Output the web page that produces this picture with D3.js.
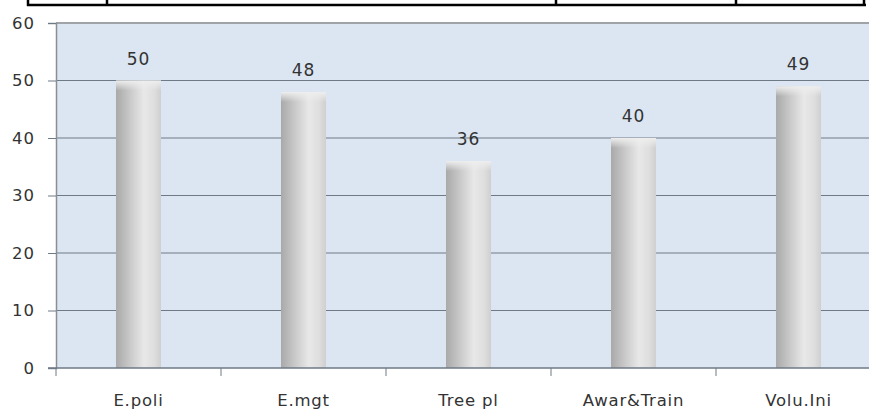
<!DOCTYPE html>
<html>
<head>
<meta charset="utf-8">
<script src="https://cdn.jsdelivr.net/npm/d3@7"></script>
<style>
  body { margin: 0; background: #fff; }
  text { font-family: "DejaVu Sans", Verdana, sans-serif; fill: #333; }
</style>
</head>
<body>
<div id="chart"></div>
<script>
var categories = ["E.poli", "E.mgt", "Tree pl", "Awar&Train", "Volu.Ini"];
var values = [50, 48, 36, 40, 49];
var yTicks = [0, 10, 20, 30, 40, 50, 60];

var W = 869, H = 412;
var margin = {top: 23, left: 56, bottom: 44};
var plotH = H - margin.top - margin.bottom;
var bandW = 165;

var svg = d3.select("#chart").append("svg")
    .attr("width", W)
    .attr("height", H);

// table border fragment at the top
var tbl = svg.append("g").attr("stroke", "#000").attr("stroke-width", 2.5);
tbl.append("line").attr("x1", 27).attr("x2", 866).attr("y1", 5).attr("y2", 5);
[28, 107, 556, 736, 864].forEach(function(x) {
  tbl.append("line").attr("x1", x).attr("x2", x).attr("y1", -2).attr("y2", 6);
});

var x = d3.scaleBand()
    .domain(categories)
    .range([margin.left, margin.left + bandW * categories.length]);

var y = d3.scaleLinear()
    .domain([0, 60])
    .range([margin.top + plotH, margin.top]);

var defs = svg.append("defs");
var grad = defs.append("linearGradient").attr("id", "barGrad")
    .attr("x1", "0%").attr("x2", "100%").attr("y1", "0%").attr("y2", "0%");
grad.append("stop").attr("offset", "0%").attr("stop-color", "#a9a9a9");
grad.append("stop").attr("offset", "30%").attr("stop-color", "#c8c8c8");
grad.append("stop").attr("offset", "62%").attr("stop-color", "#e8e8e8");
grad.append("stop").attr("offset", "85%").attr("stop-color", "#dedede");
grad.append("stop").attr("offset", "100%").attr("stop-color", "#cfcfcf");

var capGrad = defs.append("linearGradient").attr("id", "capGrad")
    .attr("x1", "0%").attr("x2", "0%").attr("y1", "0%").attr("y2", "100%");
capGrad.append("stop").attr("offset", "0%").attr("stop-color", "#eeeeee").attr("stop-opacity", 1);
capGrad.append("stop").attr("offset", "100%").attr("stop-color", "#eeeeee").attr("stop-opacity", 0);

// plot background
svg.append("rect")
    .attr("x", margin.left)
    .attr("y", y(60))
    .attr("width", W - margin.left)
    .attr("height", y(0) - y(60))
    .attr("fill", "#dce6f2");

// gridlines
svg.append("g").selectAll("line")
    .data(yTicks.filter(function(d) { return d > 0; }))
    .enter().append("line")
    .attr("x1", margin.left)
    .attr("x2", W)
    .attr("y1", function(d) { return y(d); })
    .attr("y2", function(d) { return y(d); })
    .attr("stroke", function(d) { return d === 60 ? "#a0a4a8" : "#6e7a86"; })
    .attr("stroke-width", function(d) { return d === 60 ? 2 : 1; });

// bars
var barW = 45;
var bars = svg.append("g").selectAll("g")
    .data(values)
    .enter().append("g");

bars.append("rect")
    .attr("x", function(d, i) { return x(categories[i]) + x.bandwidth() / 2 - barW / 2; })
    .attr("y", function(d) { return y(d); })
    .attr("width", barW)
    .attr("height", function(d) { return y(0) - y(d); })
    .attr("fill", "url(#barGrad)");

bars.append("rect")
    .attr("x", function(d, i) { return x(categories[i]) + x.bandwidth() / 2 - barW / 2; })
    .attr("y", function(d) { return y(d); })
    .attr("width", barW)
    .attr("height", 10)
    .attr("fill", "url(#capGrad)");

bars.append("text")
    .attr("x", function(d, i) { return x(categories[i]) + x.bandwidth() / 2; })
    .attr("y", function(d) { return y(d) - 16; })
    .attr("text-anchor", "middle")
    .style("font-size", "17px")
    .style("letter-spacing", "1px")
    .text(function(d) { return d; });

// y axis
var yAxis = svg.append("g")
    .attr("transform", "translate(" + margin.left + ",0)")
    .call(d3.axisLeft(y).tickValues(yTicks).tickSize(8).tickPadding(13));
yAxis.select(".domain").attr("stroke", "#8a8f96").attr("stroke-width", 1.5);
yAxis.selectAll(".tick line").attr("stroke", "#6e7a86");
yAxis.selectAll("text")
    .style("font-size", "16.5px")
    .style("letter-spacing", "1px")
    .attr("fill", "#333");

// x axis
var xAxis = svg.append("g")
    .attr("transform", "translate(0," + y(0) + ")");
xAxis.append("line")
    .attr("x1", margin.left - 8).attr("x2", W)
    .attr("y1", 0).attr("y2", 0)
    .attr("stroke", "#6e7a86").attr("stroke-width", 1.5);
xAxis.selectAll(".xt")
    .data(categories.slice(1))
    .enter().append("line")
    .attr("x1", function(d) { return x(d); })
    .attr("x2", function(d) { return x(d); })
    .attr("y1", 0).attr("y2", 8)
    .attr("stroke", "#6e7a86");
xAxis.append("line")
    .attr("x1", margin.left).attr("x2", margin.left)
    .attr("y1", 0).attr("y2", 8)
    .attr("stroke", "#6e7a86");
xAxis.selectAll(".xl")
    .data(categories)
    .enter().append("text")
    .attr("x", function(d) { return x(d) + x.bandwidth() / 2; })
    .attr("y", 38)
    .attr("text-anchor", "middle")
    .style("font-size", "16.5px")
    .style("letter-spacing", "0.8px")
    .text(function(d) { return d; });
</script>
</body>
</html>
